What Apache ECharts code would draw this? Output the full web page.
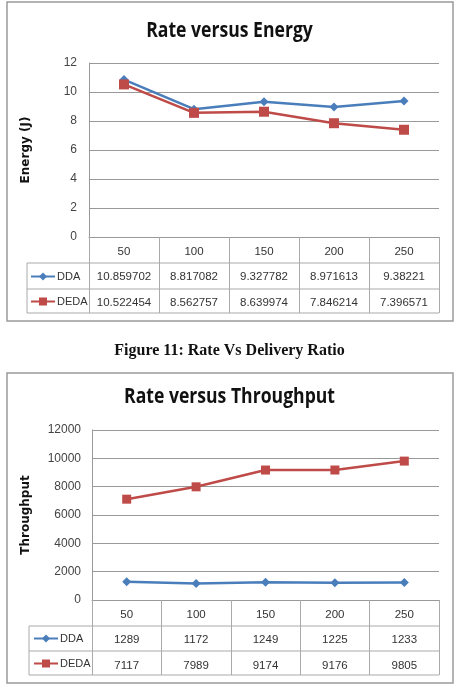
<!DOCTYPE html>
<html>
<head>
<meta charset="utf-8">
<script src="https://cdn.jsdelivr.net/npm/echarts@6/dist/echarts.min.js"></script>
<style>
html, body { margin: 0; padding: 0; background: #fff; }
#main { width: 459px; height: 697px; }
</style>
</head>
<body>
<div id="main"></div>
<script>
var rates = ['50', '100', '150', '200', '250'];
var energyDDA = [10.859702, 8.817082, 9.327782, 8.971613, 9.38221];
var energyDEDA = [10.522454, 8.562757, 8.639974, 7.846214, 7.396571];
var thrDDA = [1289, 1172, 1249, 1225, 1233];
var thrDEDA = [7117, 7989, 9174, 9176, 9805];

var blue = '#4a7ebb';
var red = '#be4b48';
var gridCol = '#999';
var tableCol = '#aaa';

var dom = document.getElementById('main');
var myChart = echarts.init(dom);

// data table under each chart is the x axis label (3 lines per category)
function tableLabel(a, b) {
    return function(v, i) {
        return v + '\n' + a[i] + '\n' + b[i];
    };
}

function xAxisFor(idx, a, b, tickLen) {
    return {
        type: 'category',
        gridIndex: idx,
        data: rates,
        axisLine: { lineStyle: { color: gridCol, width: 1 } },
        axisTick: { show: true, interval: 0, length: tickLen, lineStyle: { color: tableCol } },
        axisLabel: {
            interval: 0, margin: 2, lineHeight: 25.5,
            fontSize: 11.5, color: '#333', fontFamily: 'Liberation Sans',
            formatter: tableLabel(a, b)
        }
    };
}

function yAxisFor(idx, max, step, name, gap, margin) {
    return {
        type: 'value',
        gridIndex: idx,
        min: 0, max: max, interval: step,
        name: name,
        nameLocation: 'middle',
        nameGap: gap,
        nameTextStyle: { fontFamily: 'DejaVu Sans', fontWeight: 'bold', fontSize: 12, color: '#111' },
        axisLine: { show: true, lineStyle: { color: gridCol } },
        axisTick: { show: false },
        axisLabel: {
            color: '#444', fontSize: 12, margin: margin, fontFamily: 'Liberation Sans',
            formatter: function(v) { return String(v); }
        },
        splitLine: { lineStyle: { color: gridCol } }
    };
}

function lineSeries(name, idx, data, color, symbol, size) {
    return {
        name: name,
        type: 'line',
        xAxisIndex: idx,
        yAxisIndex: idx,
        data: data,
        symbol: symbol,
        symbolSize: size,
        color: color,
        lineStyle: { width: 2.5, color: color },
        itemStyle: { color: color },
        animation: false
    };
}

function legendAt(left, top) {
    return {
        orient: 'vertical',
        left: left,
        top: top,
        padding: 0,
        itemWidth: 24,
        itemHeight: 10,
        itemGap: 12,
        data: ['DDA', 'DEDA'],
        textStyle: { fontSize: 11, lineHeight: 13, color: '#333', fontFamily: 'Liberation Sans', padding: [0, 0, 0, -3] }
    };
}

function hline(x1, x2, y) {
    return { type: 'line', shape: { x1: x1, y1: y, x2: x2, y2: y }, style: { stroke: tableCol, lineWidth: 1 } };
}
function vline(x, y1, y2) {
    return { type: 'line', shape: { x1: x, y1: y1, x2: x, y2: y2 }, style: { stroke: tableCol, lineWidth: 1 } };
}
// chart titles, squeezed a little to look like the narrow original face
function titleText(text, y) {
    return {
        type: 'text', x: 229.5, y: y, scaleX: 0.8, originX: 0, originY: 0,
        style: {
            text: text, textAlign: 'center', textVerticalAlign: 'middle',
            font: 'bold 22px "Open Sans", sans-serif', fill: '#111'
        }
    };
}

myChart.setOption({
    backgroundColor: '#fff',
    animation: false,
    title: [{
        text: 'Figure 11: Rate Vs Delivery Ratio', left: 'center', top: 338,
        textStyle: { fontFamily: 'Liberation Serif', fontWeight: 'bold', fontSize: 16, color: '#111' }
    }],
    legend: [legendAt(30, 270), legendAt(33, 632)],
    grid: [
        { left: 89, top: 63, width: 350, height: 174 },
        { left: 92, top: 430, width: 347, height: 170 }
    ],
    xAxis: [
        xAxisFor(0, energyDDA, energyDEDA, 76),
        xAxisFor(1, thrDDA, thrDEDA, 75)
    ],
    yAxis: [
        yAxisFor(0, 12, 2, 'Energy (J)', 57, 12),
        yAxisFor(1, 12000, 2000, 'Throughput', 60, 11)
    ],
    series: [
        lineSeries('DDA', 0, energyDDA, blue, 'diamond', 9),
        lineSeries('DEDA', 0, energyDEDA, red, 'rect', 10),
        lineSeries('DDA', 1, thrDDA, blue, 'diamond', 9),
        lineSeries('DEDA', 1, thrDEDA, red, 'rect', 9)
    ],
    graphic: [
        { type: 'rect', shape: { x: 7, y: 2, width: 446, height: 319 }, style: { fill: null, stroke: '#9a9a9a', lineWidth: 1.5 } },
        { type: 'rect', shape: { x: 7, y: 373, width: 446, height: 310 }, style: { fill: null, stroke: '#9a9a9a', lineWidth: 1.5 } },
        titleText('Rate versus Energy', 31),
        titleText('Rate versus Throughput', 397),
        hline(27, 439, 263), hline(27, 439, 289), hline(27, 439, 313), vline(27, 263, 313),
        hline(29, 439, 626), hline(29, 439, 651), hline(29, 439, 675), vline(29, 626, 675)
    ]
});
</script>
</body>
</html>
